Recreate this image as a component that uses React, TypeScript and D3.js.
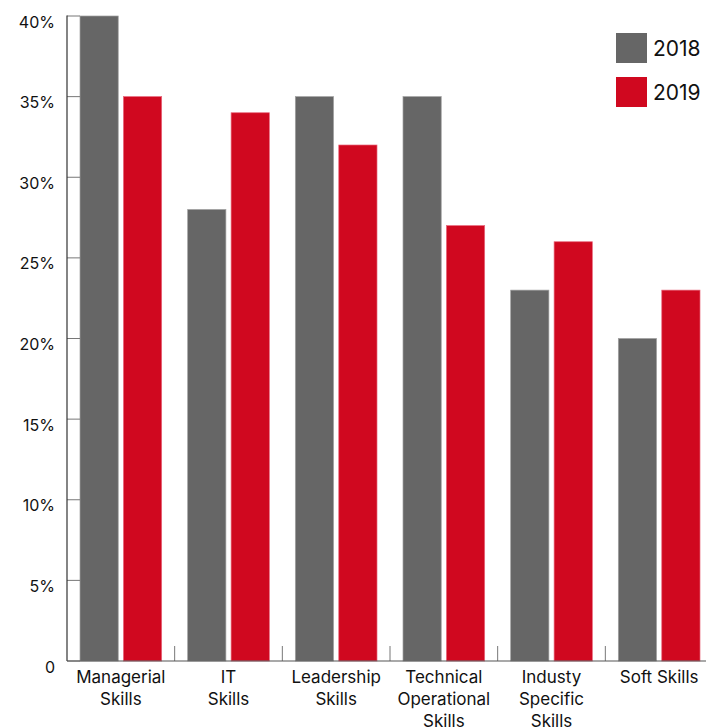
import React from "react";
import * as d3 from "d3";

const categories = [
  ["Managerial", "Skills"],
  ["IT", "Skills"],
  ["Leadership", "Skills"],
  ["Technical", "Operational", "Skills"],
  ["Industy", "Specific", "Skills"],
  ["Soft Skills"],
];
const years = ["2018", "2019"];
const values2018 = [40, 28, 35, 35, 23, 20];
const values2019 = [35, 34, 32, 27, 26, 23];
const yTicks = [0, 5, 10, 15, 20, 25, 30, 35, 40];
const colors = ["#666666", "#d0081f"];

const W = 706;
const H = 728;
const FONT = "Inter, 'Open Sans', sans-serif";

export default function App() {
  const keys = categories.map((c) => c.join(" "));
  const x0 = d3.scaleBand<string>().domain(keys).range([67, 713]).padding(0);
  const bw = x0.bandwidth();
  const x1 = d3.scaleBand<string>().domain(years).range([13, bw - 13]).paddingInner(0.12);
  const y = d3.scaleLinear().domain([0, 40]).range([661, 16]);
  const series = [values2018, values2019];

  return (
    <svg width={W} height={H} style={{ position: "absolute", left: 0, top: 0, background: "#fff" }} fontFamily={FONT}>
      {/* bars */}
      {keys.map((k, i) => (
        <g key={k} transform={`translate(${x0(k)},0)`}>
          {years.map((yr, j) => (
            <rect
              key={yr}
              x={x1(yr)}
              y={y(series[j][i])}
              width={x1.bandwidth()}
              height={y(0) - y(series[j][i])}
              fill={colors[j]}
              stroke={j === 0 ? "#a0a0a0" : "#e8667a"}
              strokeWidth={0.7}
            />
          ))}
        </g>
      ))}
      {/* y ticks inward */}
      {yTicks.map((t) => (
        <g key={t}>
          <line x1={67} x2={80} y1={y(t)} y2={y(t)} stroke="#777" strokeWidth={1} />
          <text x={55} y={y(t) + 11.5} textAnchor="end" fontSize={16} fill="#111">
            {t === 0 ? "0" : `${t}%`}
          </text>
        </g>
      ))}
      {/* x ticks at band boundaries */}
      {keys.slice(1).map((k) => (
        <line key={k} x1={x0(k)} x2={x0(k)} y1={646} y2={661} stroke="#777" strokeWidth={1} />
      ))}
      {/* axes */}
      <line x1={67} x2={67} y1={15.5} y2={661} stroke="#333" strokeWidth={1.2} />
      <line x1={67} x2={W} y1={661} y2={661} stroke="#555" strokeWidth={1.2} />
      {/* x labels */}
      {categories.map((lines, i) => (
        <text key={i} textAnchor="middle" fontSize={17} fill="#111">
          {lines.map((ln, li) => (
            <tspan key={li} x={(x0(keys[i]) as number) + bw / 2} y={683 + li * 22}>
              {ln}
            </tspan>
          ))}
        </text>
      ))}
      {/* legend */}
      {years.map((yr, j) => (
        <g key={yr} transform={`translate(616,${33 + j * 44})`}>
          <rect width={31} height={30} fill={colors[j]} />
          <text x={37} y={23} fontSize={21} fill="#111">
            {yr}
          </text>
        </g>
      ))}
    </svg>
  );
}
